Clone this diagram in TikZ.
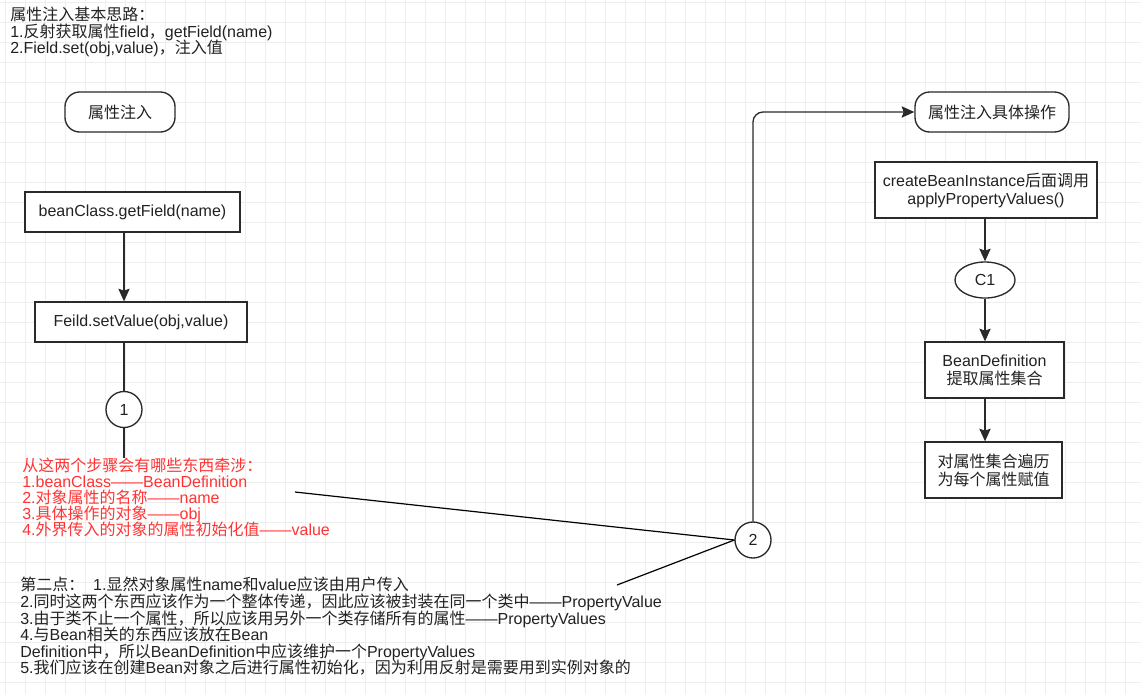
\documentclass[tikz,border=0pt]{standalone}
\usepackage{fontspec}
\usetikzlibrary{arrows.meta,shapes.geometric}
\setmainfont{Liberation Sans}
\newfontfamily\latinfont{Liberation Sans}
\newfontfamily\cjkfont{Noto Sans CJK SC}
\XeTeXinterchartokenstate=1
\chardef\cjkclass=77
\newcount\cjkcnt
\def\setcjkrange#1#2{\cjkcnt=#1\relax\loop\XeTeXcharclass\cjkcnt=\cjkclass\ifnum\cjkcnt<#2\advance\cjkcnt by 1\repeat}
\setcjkrange{"3000}{"303F}
\setcjkrange{"4E00}{"9FFF}
\setcjkrange{"FF00}{"FFEF}
\XeTeXcharclass"2014=0
\XeTeXinterchartoks 0 77={\cjkfont}
\XeTeXinterchartoks 1 77={\cjkfont}
\XeTeXinterchartoks 2 77={\cjkfont}
\XeTeXinterchartoks 3 77={\cjkfont}
\XeTeXinterchartoks 4095 77={\cjkfont}
\XeTeXinterchartoks 77 0={\latinfont}
\XeTeXinterchartoks 77 1={\latinfont}
\XeTeXinterchartoks 77 2={\latinfont}
\XeTeXinterchartoks 77 3={\latinfont}
\XeTeXinterchartoks 77 4095={\latinfont}
\definecolor{ink}{HTML}{222222}
\definecolor{boxline}{HTML}{2A2A2A}
\definecolor{redtxt}{HTML}{FF3333}
\definecolor{gridc}{HTML}{EEEEEE}
\lineskiplimit=-100pt
\begin{document}
\begin{tikzpicture}[x=0.75pt,y=-0.75pt,
  font=\fontsize{12pt}{13.5pt}\selectfont,
  gridline/.style={draw=gridc,line width=0.75pt},
  ln/.style={draw=boxline,line width=1pt},
  arr/.style={ln,-{Stealth[length=9.5pt,width=8.5pt,inset=1.5pt]}},
  box/.style={draw=boxline,line width=1pt,fill=white,text=ink,align=center,inner sep=0pt},
  term/.style={box,rounded corners=11pt,minimum height=30pt},
  circ/.style={draw=boxline,line width=1pt,fill=white,text=ink,circle,minimum size=27pt,inner sep=0pt},
  note/.style={anchor=north west,align=left,inner sep=0pt,text=ink,font=\fontsize{12pt}{12.45pt}\selectfont}
]
\fill[white] (0,0) rectangle (1141,694);
\useasboundingbox (0,0) rectangle (1141,694);
\foreach \gx in {5,25,...,1141} \draw[gridline] (\gx,0) -- (\gx,694);
\foreach \gy in {2,22,...,694} \draw[gridline] (0,\gy) -- (1141,\gy);

% title
\node[note] (title) at (10,7) {属性注入基本思路：\\1.反射获取属性field，getField(name)\\2.Field.set(obj,value)，注入值};

% left column
\node[term,minimum width=82.5pt] (t1) at (120,112) {属性注入};
\node[box,minimum width=161.25pt,minimum height=30pt] (b1) at (132.5,212) {beanClass.getField(name)};
\node[box,minimum width=159pt,minimum height=30pt] (b2) at (141,322) {Feild.setValue(obj,value)};
\node[circ] (c1) at (124,409.5) {1};
\node[note,text=redtxt,font=\fontsize{12pt}{12pt}\selectfont] (red) at (22,458) {从这两个步骤会有哪些东西牵涉：\\1.beanClass——BeanDefinition\\2.对象属性的名称——name\\3.具体操作的对象——obj\\4.外界传入的对象的属性初始化值——value};
\node[note] (black) at (20,577) {第二点：\ \ 1.显然对象属性name和value应该由用户传入\\2.同时这两个东西应该作为一个整体传递，因此应该被封装在同一个类中——PropertyValue\\3.由于类不止一个属性，所以应该用另外一个类存储所有的属性——PropertyValues\\4.与Bean相关的东西应该放在Bean\\Definition中，所以BeanDefinition中应该维护一个PropertyValues\\5.我们应该在创建Bean对象之后进行属性初始化，因为利用反射是需要用到实例对象的};

\node[circ] (c2) at (753,540) {2};
\coordinate (redend) at (295,492);
\coordinate (blackend) at (617,585);

% right column
\node[term,minimum width=115.5pt] (t2) at (992,112) {属性注入具体操作};
\node[box,minimum width=166.5pt,minimum height=42pt] (b3) at (986,190) {createBeanInstance后面调用\\applyPropertyValues()};
\node[box,ellipse,minimum width=45pt,minimum height=27pt] (e1) at (985,280) {C1};
\node[box,minimum width=104.25pt,minimum height=42pt] (b4) at (994.5,370) {BeanDefinition\\提取属性集合};
\node[box,minimum width=102.75pt,minimum height=42pt] (b5) at (993.5,470) {对属性集合遍历\\为每个属性赋值};

% connectors
\draw[arr] (c1 |- b1.south) -- (c1 |- b2.north);
\draw[ln] (c1 |- b2.south) -- (c1.north);
\draw[ln] (c1.south) -- (c1 |- red.north);
\draw[ln,line width=0.9pt,draw=black] (redend) -- (c2.west);
\draw[ln,line width=0.9pt,draw=black] (c2.west) -- (blackend);
\draw[arr,rounded corners=7.5pt] (c2.north) |- (t2.west);
\draw[arr] (e1 |- b3.south) -- (e1.north);
\draw[arr] (e1.south) -- (e1 |- b4.north);
\draw[arr] (e1 |- b4.south) -- (e1 |- b5.north);
\end{tikzpicture}
\end{document}
